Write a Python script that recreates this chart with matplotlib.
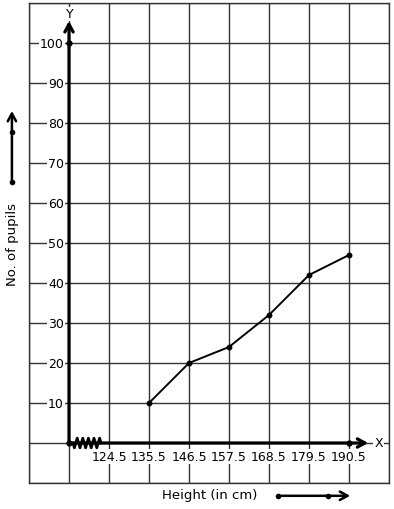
import matplotlib
matplotlib.use("Agg")
import matplotlib.pyplot as plt
import numpy as np

heights = [135.5, 146.5, 157.5, 168.5, 179.5, 190.5]
pupils = [10, 20, 24, 32, 42, 47]
x_tick_labels = ["124.5", "135.5", "146.5", "157.5", "168.5", "179.5", "190.5"]
x_tick_values = [124.5, 135.5, 146.5, 157.5, 168.5, 179.5, 190.5]
y_tick_values = [10, 20, 30, 40, 50, 60, 70, 80, 90, 100]

W, H = 394, 510
fig = plt.figure(figsize=(W / 100, H / 100), dpi=100)
ax = fig.add_axes([29 / W, (H - 484) / H, 360 / W, 480 / H])

x0 = 102.5
step = 11
ax.set_xlim(x0, x0 + 9 * step)
ax.set_ylim(-10, 110)
ax.set_xticks([x0 + k * step for k in range(10)])
ax.set_yticks(np.arange(-10, 111, 10))
ax.tick_params(length=0, labelbottom=False, labelleft=False)
ax.grid(True, color="#333333", lw=1.0)
for s in ax.spines.values():
    s.set_color("#333333")
    s.set_linewidth(1.0)

origin_x = 113.5
bb = dict(facecolor="white", edgecolor="none", pad=0.6)
arrow = "->,head_length=0.55,head_width=0.3"

# Y axis
ax.annotate("", xy=(origin_x, 105.5), xytext=(origin_x, 0),
            arrowprops=dict(arrowstyle=arrow, lw=2.3, color="black",
                            shrinkA=0, shrinkB=0), zorder=5)
ax.text(origin_x + 0.3, 107.3, "Y", ha="center", va="center", fontsize=9, zorder=10,
        bbox=dict(facecolor="white", edgecolor="none", pad=0.3), clip_on=False)
# X axis
ax.annotate("", xy=(195.8, 0), xytext=(origin_x, 0),
            arrowprops=dict(arrowstyle=arrow, lw=2.3, color="black",
                            shrinkA=0, shrinkB=0), zorder=5)
ax.text(198.6, 0.1, "X", ha="center", va="center", fontsize=9, bbox=bb, clip_on=False)

# dots on axes
ax.plot([origin_x, origin_x, 190.5], [0, 100, 0], "o", color="black", ms=3.5, zorder=6)

# zigzag kink
n = 21
zx = np.linspace(114.6, 122.3, n)
zy = np.array([0, -1.2, 0, 1.2] * 6)[:n]
ax.plot(zx, zy, color="black", lw=2.0, zorder=6)

# tick labels
for v in y_tick_values:
    ax.text(112.1, v, str(v), ha="right", va="center", fontsize=9, bbox=bb, zorder=4)
for v, lab in zip(x_tick_values, x_tick_labels):
    ax.text(v, -3.3, lab, ha="center", va="center", fontsize=9, bbox=bb, zorder=4)

# data line
ax.plot(heights, pupils, "-o", color="black", lw=1.4, ms=3.2, zorder=7)

# axis titles with arrows
ax.text(98.1, 49.8, "No. of pupils", rotation=90, ha="center", va="center", fontsize=9.5, clip_on=False)
ax.annotate("", xy=(97.8, 83.0), xytext=(97.8, 65.25), annotation_clip=False,
            arrowprops=dict(arrowstyle=arrow, lw=1.8, color="black",
                            shrinkA=0, shrinkB=0))
ax.plot([97.8, 97.8], [65.25, 77.75], "o", color="black", ms=3, clip_on=False)

ax.text(152.3, -13.0, "Height (in cm)", ha="center", va="center", fontsize=9.5, clip_on=False)
ax.annotate("", xy=(190.8, -13.2), xytext=(171.0, -13.2), annotation_clip=False,
            arrowprops=dict(arrowstyle=arrow, lw=1.8, color="black",
                            shrinkA=0, shrinkB=0))
ax.plot([171.0, 184.7], [-13.2, -13.2], "o", color="black", ms=3, clip_on=False)

fig.savefig("out.png", dpi=100)
